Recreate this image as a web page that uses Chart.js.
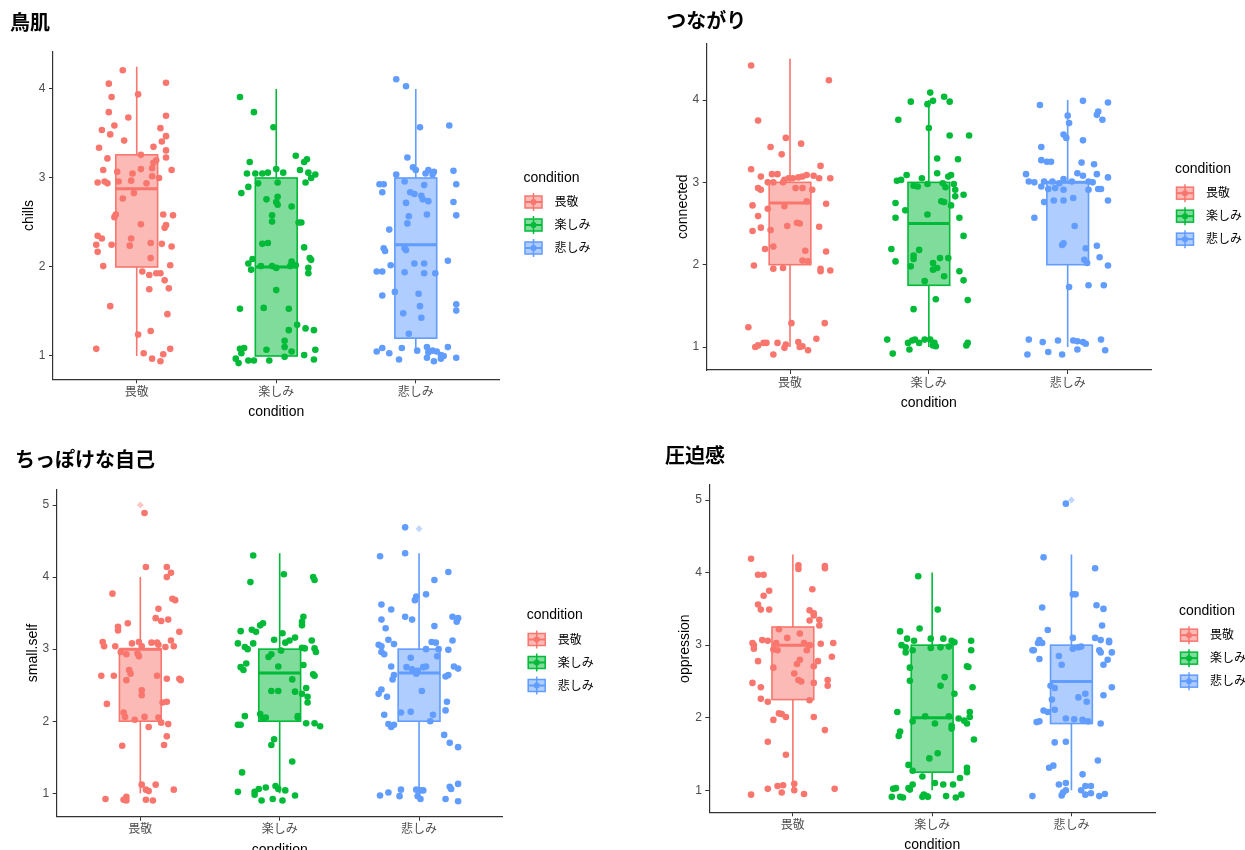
<!DOCTYPE html>
<html>
<head>
<meta charset="utf-8">
<script src="https://cdn.jsdelivr.net/npm/chart.js@4.4.1/dist/chart.umd.min.js"></script>
<style>
  body { margin: 0; background: #fff; overflow: hidden; width: 1245px; height: 850px; position: relative; }
  canvas { position: absolute; }
</style>
</head>
<body>
<canvas id="p1" width="622" height="425" style="left:0px;top:0px"></canvas>
<canvas id="p2" width="605" height="425" style="left:640px;top:0px"></canvas>
<canvas id="p3" width="622" height="440" style="left:0px;top:430px"></canvas>
<canvas id="p4" width="605" height="440" style="left:640px;top:430px"></canvas>
<script>
const conditions = ['畏敬', '楽しみ', '悲しみ']
const colors = ['#F8766D', '#00BA38', '#619CFF']
const fills = ['rgba(248,118,109,0.5)', 'rgba(0,186,56,0.5)', 'rgba(97,156,255,0.5)']
const faded = ['rgba(248,118,109,0.4)', 'rgba(0,186,56,0.4)', 'rgba(97,156,255,0.4)']

// box stats per condition: [lower whisker, q1, median, q3, upper whisker]
const chillsBox = [[1.0, 2.0, 2.88, 3.26, 4.25], [1.0, 1.0, 2.0, 3.0, 4.0], [1.05, 1.2, 2.25, 3.0, 4.0]]
const connectedBox = [[1.0, 2.0, 2.75, 3.0, 4.5], [1.0, 1.75, 2.5, 3.0, 4.0], [1.0, 2.0, 3.0, 3.0, 4.0]]
const smallSelfBox = [[1.0, 2.0, 3.0, 3.0, 4.0], [1.0, 2.0, 2.67, 3.0, 4.33], [1.0, 2.0, 2.67, 3.0, 4.33]]
const oppressionBox = [[1.0, 2.25, 3.0, 3.25, 4.25], [1.0, 1.25, 2.0, 3.0, 4.0], [1.0, 1.92, 2.5, 3.0, 4.25]]

// boxplot outliers: [condition number, value]
const smallSelfOut = [[1, 5.0], [3, 4.67]]
const oppressionOut = [[3, 5.0]]

// jittered points: [x jitter, value]
const chillsAwe = [[-0.10,4.21],[-0.20,4.06],[0.21,4.07],[-0.18,3.91],[0.01,3.94],[-0.20,3.74],[0.21,3.70],[-0.06,3.68],[-0.25,3.54],[-0.16,3.59],[0.17,3.56],[-0.19,3.49],[0.21,3.47],[-0.09,3.42],[0.18,3.41],[0.12,3.35],[-0.27,3.34],[0.21,3.31],[-0.21,3.22],[0.03,3.26],[0.21,3.23],[0.14,3.20],[0.12,3.17],[-0.24,3.09],[-0.14,3.07],[-0.03,3.05],[0.03,3.10],[0.25,3.09],[0.11,3.11],[0.11,3.02],[0.16,3.00],[-0.28,2.95],[-0.23,2.96],[-0.21,2.94],[-0.13,2.96],[-0.04,2.97],[0.07,2.94],[-0.02,2.83],[-0.10,2.77],[0.19,2.59],[0.26,2.58],[-0.15,2.59],[-0.16,2.56],[0.21,2.47],[0.20,2.44],[0.03,2.48],[-0.28,2.35],[-0.25,2.32],[-0.29,2.25],[-0.18,2.25],[-0.04,2.32],[-0.05,2.24],[0.10,2.27],[0.18,2.26],[0.25,2.23],[-0.28,2.17],[0.10,2.10],[-0.24,2.01],[0.24,2.02],[0.04,1.95],[0.09,1.91],[0.14,1.93],[0.17,1.93],[0.20,1.85],[0.09,1.75],[0.23,1.76],[-0.19,1.56],[0.22,1.47],[0.01,1.24],[0.10,1.28],[-0.29,1.08],[0.05,1.03],[0.11,0.97],[0.17,0.94],[0.19,1.02],[0.24,1.08]]
const chillsJoy = [[-0.26,3.91],[-0.16,3.74],[-0.02,3.57],[0.14,3.25],[0.22,3.21],[0.20,3.18],[-0.19,3.18],[0.17,3.09],[0.23,3.06],[0.28,3.04],[-0.21,3.05],[-0.15,3.05],[-0.10,3.05],[-0.06,3.06],[0.05,3.06],[0.00,3.10],[0.25,3.00],[0.21,2.95],[0.01,2.95],[-0.13,2.94],[-0.20,2.90],[-0.25,2.83],[0.01,2.79],[-0.07,2.76],[0.00,2.73],[0.01,2.70],[0.11,2.68],[-0.03,2.58],[-0.03,2.51],[0.16,2.50],[0.18,2.50],[-0.10,2.26],[-0.06,2.27],[0.20,2.22],[0.24,2.10],[0.25,2.08],[-0.17,2.09],[-0.20,2.04],[-0.18,1.97],[-0.11,2.01],[-0.03,2.01],[0.00,1.99],[0.11,2.06],[0.10,2.01],[0.14,2.02],[0.23,1.99],[0.23,1.93],[0.00,1.74],[-0.26,1.53],[-0.09,1.54],[0.09,1.53],[0.15,1.35],[0.21,1.31],[0.27,1.29],[0.09,1.29],[0.06,1.17],[0.06,1.10],[0.11,1.05],[-0.07,1.07],[-0.26,1.08],[-0.23,1.09],[-0.25,1.03],[-0.29,0.97],[-0.27,0.92],[-0.20,0.95],[-0.16,0.95],[-0.05,0.95],[0.06,0.99],[0.20,1.01],[0.28,1.07],[0.27,0.96]]
const chillsSad = [[-0.14,4.11],[-0.07,4.03],[0.03,3.57],[0.24,3.59],[-0.06,3.23],[-0.02,3.12],[0.00,3.09],[0.09,3.09],[0.13,3.07],[0.07,3.05],[0.12,3.04],[0.27,3.08],[-0.14,3.04],[-0.08,2.96],[-0.26,2.93],[-0.23,2.93],[0.29,2.93],[0.06,2.92],[-0.24,2.84],[-0.04,2.84],[-0.01,2.82],[0.04,2.80],[0.09,2.74],[0.05,2.76],[-0.07,2.72],[0.27,2.73],[-0.05,2.57],[0.08,2.59],[-0.06,2.49],[0.29,2.58],[-0.19,2.42],[-0.23,2.21],[-0.22,2.18],[-0.08,2.21],[-0.07,2.19],[-0.18,2.02],[-0.01,2.04],[0.06,2.04],[0.23,2.07],[-0.28,1.95],[-0.24,1.95],[-0.08,1.94],[0.06,1.93],[0.14,1.93],[-0.15,1.72],[0.02,1.70],[-0.24,1.68],[0.03,1.56],[0.29,1.58],[0.29,1.51],[-0.09,1.48],[0.04,1.43],[-0.05,1.25],[-0.28,1.05],[-0.24,1.09],[-0.19,1.03],[-0.10,1.09],[0.01,1.06],[0.08,1.10],[0.09,1.04],[0.12,1.06],[0.15,1.05],[0.18,1.01],[0.23,1.10],[-0.12,0.96],[0.08,0.98],[0.13,0.94],[0.18,0.97],[0.29,0.98],[0.20,1.00]]

const connectedAwe = [[-0.28,4.42],[0.28,4.24],[-0.23,3.75],[-0.03,3.54],[0.08,3.47],[-0.14,3.43],[-0.06,3.34],[0.22,3.20],[-0.28,3.16],[0.29,3.05],[-0.21,3.07],[-0.13,3.10],[-0.09,3.10],[-0.04,3.03],[-0.01,3.05],[0.02,3.05],[0.06,3.06],[0.09,3.07],[0.12,3.09],[0.17,3.08],[0.21,3.05],[-0.16,3.00],[-0.12,3.00],[-0.05,3.00],[-0.23,2.93],[-0.21,2.91],[0.04,2.93],[0.09,2.93],[0.16,2.91],[-0.27,2.72],[-0.04,2.71],[0.26,2.74],[0.12,2.77],[-0.16,2.68],[-0.23,2.59],[-0.21,2.45],[-0.27,2.41],[-0.14,2.42],[0.05,2.51],[0.07,2.50],[-0.02,2.47],[0.21,2.46],[-0.18,2.19],[-0.12,2.22],[0.11,2.17],[0.26,2.16],[0.09,2.05],[0.13,2.04],[-0.26,1.99],[-0.12,1.95],[-0.05,1.96],[0.22,1.95],[0.22,1.92],[0.29,1.93],[-0.30,1.24],[0.01,1.29],[0.25,1.29],[-0.25,1.00],[-0.23,1.02],[-0.19,1.05],[-0.17,1.05],[-0.09,1.05],[-0.03,1.03],[-0.04,0.99],[0.06,1.06],[0.07,1.00],[0.09,1.01],[0.13,0.96],[0.19,1.10],[-0.12,0.91]]
const connectedJoy = [[0.01,4.09],[-0.13,3.98],[0.03,3.99],[0.11,4.04],[0.15,3.98],[-0.01,3.95],[-0.22,3.76],[0.00,3.66],[0.15,3.57],[0.29,3.57],[0.06,3.29],[0.21,3.28],[-0.16,3.09],[-0.23,3.02],[-0.20,3.03],[-0.05,3.05],[0.06,3.11],[0.16,3.09],[0.14,3.07],[-0.01,2.98],[-0.11,2.96],[-0.08,2.95],[0.10,2.99],[0.18,2.98],[0.12,2.94],[0.19,2.91],[0.25,2.85],[0.19,2.83],[-0.24,2.75],[-0.17,2.66],[0.09,2.77],[0.11,2.76],[0.16,2.72],[-0.01,2.61],[-0.24,2.57],[0.22,2.57],[0.25,2.35],[-0.07,2.18],[-0.27,2.19],[-0.11,2.11],[-0.11,2.07],[-0.24,2.04],[-0.13,1.98],[0.08,2.08],[0.14,2.08],[0.03,2.02],[0.06,1.96],[0.22,1.92],[0.03,1.94],[0.11,1.86],[-0.03,1.80],[0.25,1.81],[0.05,1.58],[0.28,1.57],[-0.11,1.46],[-0.30,1.09],[-0.15,1.05],[-0.12,1.08],[-0.10,1.09],[-0.07,1.05],[-0.03,1.09],[0.01,1.09],[0.03,1.02],[0.05,1.01],[0.28,1.05],[0.27,1.02],[-0.14,0.97],[-0.26,0.92],[0.04,1.05]]
const connectedSad = [[-0.20,3.94],[0.11,3.99],[0.29,3.97],[0.22,3.86],[0.21,3.82],[0.25,3.76],[0.00,3.81],[0.01,3.72],[-0.03,3.58],[-0.01,3.54],[0.11,3.51],[-0.19,3.43],[-0.19,3.27],[-0.15,3.25],[-0.12,3.25],[0.10,3.24],[0.19,3.22],[-0.30,3.10],[0.07,3.11],[0.11,3.08],[0.21,3.10],[0.29,3.06],[-0.28,3.01],[-0.24,3.00],[-0.17,3.01],[-0.11,3.01],[-0.06,2.99],[-0.03,3.04],[0.03,3.01],[0.15,3.01],[0.18,3.00],[-0.19,2.95],[-0.14,2.92],[-0.09,2.93],[-0.03,2.91],[0.22,2.92],[0.24,2.92],[0.15,2.91],[0.29,2.78],[-0.17,2.76],[-0.10,2.78],[-0.03,2.78],[0.04,2.81],[-0.24,2.57],[0.05,2.47],[-0.04,2.24],[-0.03,2.26],[0.13,2.20],[0.21,2.23],[0.12,2.06],[0.14,2.02],[0.23,2.09],[0.29,1.99],[0.01,1.73],[0.15,1.75],[0.26,1.75],[-0.28,1.09],[-0.18,1.06],[-0.07,1.08],[0.04,1.08],[0.07,1.07],[0.11,1.06],[0.13,1.04],[0.24,1.09],[-0.29,0.91],[-0.14,0.94],[-0.04,0.91],[0.07,0.97],[0.27,0.96]]

const smallSelfAwe = [[0.03,4.89],[0.04,4.14],[0.19,4.14],[0.22,4.06],[0.19,4.00],[-0.20,3.77],[0.23,3.70],[0.25,3.68],[0.13,3.56],[0.11,3.43],[0.15,3.39],[0.20,3.41],[-0.09,3.36],[-0.16,3.31],[-0.16,3.26],[0.28,3.24],[-0.27,3.10],[-0.26,3.04],[-0.18,3.04],[-0.06,3.08],[-0.01,3.10],[0.01,3.04],[0.08,3.09],[0.12,3.09],[0.13,3.06],[0.18,3.03],[0.22,3.12],[0.24,3.04],[-0.14,2.96],[-0.10,2.93],[-0.02,2.94],[-0.01,2.90],[-0.08,2.71],[-0.07,2.66],[-0.19,2.63],[-0.28,2.63],[-0.10,2.57],[0.12,2.63],[0.19,2.59],[0.28,2.59],[0.29,2.57],[0.01,2.43],[0.01,2.36],[-0.24,2.24],[0.16,2.26],[0.19,2.27],[-0.12,2.12],[-0.04,2.02],[0.03,2.06],[-0.11,2.06],[0.13,2.05],[0.15,1.98],[0.20,1.96],[0.06,1.92],[0.19,1.79],[0.17,1.67],[-0.13,1.66],[0.01,1.12],[0.04,1.05],[0.06,1.03],[0.11,1.12],[0.24,1.05],[-0.25,0.92],[-0.10,0.95],[-0.10,0.90],[-0.12,0.91],[0.04,0.91],[0.09,0.90]]
const smallSelfJoy = [[-0.19,4.30],[0.03,4.04],[-0.21,3.93],[0.24,4.00],[0.25,3.96],[0.17,3.45],[0.16,3.38],[0.16,3.33],[-0.12,3.36],[-0.14,3.33],[-0.17,3.24],[-0.28,3.25],[-0.20,3.27],[0.02,3.22],[0.11,3.16],[0.23,3.12],[-0.30,3.08],[-0.25,3.03],[-0.23,3.00],[-0.19,3.08],[-0.04,3.13],[0.04,3.09],[0.07,3.12],[0.16,3.02],[0.18,3.01],[0.25,3.01],[0.26,2.96],[0.01,2.98],[-0.06,2.93],[-0.08,2.89],[-0.26,2.71],[-0.28,2.75],[-0.24,2.80],[-0.01,2.76],[0.17,2.78],[0.24,2.65],[0.25,2.63],[0.09,2.58],[0.11,2.41],[0.19,2.46],[0.16,2.38],[0.20,2.34],[-0.06,2.42],[-0.01,2.42],[0.20,2.26],[-0.14,2.10],[-0.10,2.05],[-0.12,2.04],[0.13,2.05],[0.13,2.07],[-0.25,2.07],[-0.30,1.95],[-0.28,1.95],[0.19,1.97],[0.25,1.97],[0.29,1.93],[-0.04,1.75],[-0.06,1.67],[0.09,1.44],[-0.27,1.29],[-0.30,1.02],[-0.18,1.02],[-0.15,1.06],[-0.10,1.08],[-0.03,1.10],[-0.01,1.06],[0.04,1.04],[-0.18,0.98],[-0.13,0.90],[-0.05,0.92],[0.02,0.90],[0.11,0.97]]
const smallSelfSad = [[-0.10,4.69],[-0.10,4.33],[-0.28,4.29],[0.21,4.07],[0.11,3.96],[0.05,3.76],[-0.02,3.73],[-0.03,3.68],[-0.27,3.62],[-0.20,3.55],[-0.10,3.45],[-0.05,3.41],[-0.27,3.41],[0.24,3.45],[0.28,3.43],[0.27,3.38],[0.11,3.32],[-0.24,3.29],[0.24,3.12],[-0.22,3.13],[0.09,3.10],[0.12,3.09],[-0.29,3.06],[-0.27,3.04],[-0.18,3.07],[0.05,3.00],[0.14,3.00],[0.21,2.99],[-0.27,2.96],[-0.25,2.93],[-0.06,2.88],[0.13,2.90],[0.25,2.76],[0.28,2.73],[0.21,2.64],[0.19,2.62],[-0.20,2.76],[-0.18,2.64],[-0.19,2.58],[-0.09,2.75],[-0.05,2.72],[-0.01,2.70],[0.03,2.75],[0.05,2.76],[-0.02,2.66],[0.02,2.42],[-0.27,2.44],[-0.29,2.38],[-0.23,2.34],[0.20,2.27],[0.19,2.15],[-0.25,2.09],[-0.13,2.12],[-0.06,2.13],[0.10,2.09],[0.08,2.00],[-0.22,1.96],[-0.20,1.92],[-0.18,1.95],[0.18,1.81],[0.22,1.70],[0.28,1.64],[-0.28,0.97],[-0.22,1.01],[-0.14,0.96],[-0.13,1.05],[-0.02,1.05],[0.01,1.04],[0.03,1.04],[-0.01,0.96],[0.01,0.92],[0.22,1.09],[0.23,1.06],[0.28,1.13],[0.19,0.92],[0.28,0.89]]

const oppressionAwe = [[-0.30,4.19],[-0.25,3.97],[-0.21,3.97],[0.04,4.10],[0.04,4.05],[0.23,4.09],[0.23,4.06],[-0.21,3.68],[-0.17,3.75],[0.14,3.77],[-0.25,3.56],[-0.23,3.49],[-0.17,3.49],[0.12,3.48],[0.15,3.44],[0.15,3.41],[0.19,3.35],[0.12,3.34],[0.19,3.27],[-0.10,3.22],[-0.04,3.10],[0.05,3.16],[-0.29,3.03],[-0.28,3.00],[-0.28,2.95],[-0.22,3.07],[-0.18,3.06],[-0.12,3.03],[-0.11,2.93],[-0.14,2.94],[0.08,3.03],[0.12,3.00],[0.10,2.93],[0.20,3.02],[0.29,3.03],[-0.25,2.78],[0.05,2.80],[0.03,2.74],[0.18,2.78],[0.28,2.84],[-0.14,2.69],[0.15,2.71],[0.01,2.61],[0.04,2.52],[0.06,2.50],[0.15,2.48],[0.25,2.52],[-0.29,2.48],[-0.23,2.42],[0.25,2.44],[-0.23,2.26],[-0.18,2.22],[0.12,2.24],[-0.10,2.06],[-0.08,2.05],[-0.05,2.01],[-0.14,1.97],[0.15,2.01],[0.23,1.83],[-0.18,1.67],[-0.05,1.49],[-0.18,1.02],[-0.11,1.06],[-0.07,1.07],[0.01,1.09],[0.01,1.00],[-0.08,0.97],[0.08,0.95],[-0.30,0.94],[0.30,1.02]]
const oppressionJoy = [[-0.10,3.95],[0.04,3.49],[-0.09,3.23],[-0.23,3.19],[-0.18,3.09],[-0.13,3.06],[-0.01,3.09],[0.08,3.09],[0.14,3.06],[0.16,3.04],[0.28,3.06],[-0.22,3.00],[-0.19,2.97],[-0.14,2.93],[-0.01,2.96],[0.06,2.97],[0.12,2.98],[-0.19,2.90],[0.28,2.93],[-0.16,2.69],[0.25,2.71],[0.26,2.70],[-0.16,2.51],[0.09,2.56],[0.06,2.44],[0.29,2.42],[0.16,2.33],[-0.25,2.08],[-0.05,2.02],[-0.14,1.95],[0.02,1.92],[0.12,2.02],[0.14,1.89],[0.19,1.99],[0.23,1.96],[0.27,2.08],[0.27,2.01],[0.25,1.92],[0.14,1.85],[-0.23,1.81],[-0.24,1.75],[0.30,1.70],[0.04,1.51],[-0.02,1.44],[-0.17,1.35],[-0.14,1.27],[-0.07,1.19],[0.25,1.31],[0.25,1.25],[0.20,1.17],[0.02,1.10],[0.08,1.08],[0.15,1.08],[-0.28,1.02],[-0.26,1.03],[-0.17,1.03],[-0.16,1.01],[-0.29,0.91],[-0.23,0.91],[-0.21,0.90],[-0.06,0.94],[-0.04,0.92],[-0.07,0.91],[-0.03,0.91],[0.10,0.92],[0.17,0.90],[0.21,0.94],[-0.14,1.08]]
const oppressionSad = [[-0.04,4.95],[-0.20,4.21],[0.17,4.06],[0.01,3.70],[0.03,3.70],[-0.21,3.52],[0.18,3.55],[0.23,3.50],[0.22,3.27],[-0.17,3.21],[0.01,3.10],[0.17,3.10],[0.21,3.07],[0.27,3.06],[0.27,3.04],[-0.23,3.07],[-0.24,3.03],[-0.21,3.03],[-0.27,2.93],[-0.28,2.93],[0.29,2.90],[0.20,2.93],[0.21,2.90],[0.01,2.95],[0.05,2.97],[0.07,2.98],[-0.09,2.85],[-0.23,2.81],[0.26,2.80],[0.23,2.73],[-0.07,2.73],[-0.15,2.44],[-0.12,2.41],[0.29,2.42],[0.23,2.31],[0.05,2.28],[0.10,2.33],[0.11,2.22],[-0.14,2.25],[-0.20,2.10],[-0.17,2.08],[-0.12,2.11],[-0.04,1.99],[0.02,1.98],[0.08,1.97],[0.12,1.95],[-0.25,1.94],[-0.23,1.95],[0.21,1.92],[-0.12,1.66],[-0.04,1.67],[0.19,1.41],[-0.16,1.31],[-0.13,1.34],[0.08,1.22],[-0.09,1.08],[-0.04,1.10],[0.10,1.06],[0.14,1.06],[0.07,1.00],[0.10,0.94],[0.14,0.96],[-0.07,0.93],[-0.04,1.00],[0.20,0.92],[0.24,0.95],[-0.28,0.92],[-0.06,0.97]]

Chart.defaults.font.family = "'Liberation Sans', 'Noto Sans CJK JP', sans-serif"

// draws ggplot-like boxes behind the points
function boxPlugin(stats) {
    return {
        id: 'boxes',
        beforeDatasetsDraw(chart) {
            const ctx = chart.ctx
            const x = chart.scales.x
            const y = chart.scales.y
            stats.forEach((s, i) => {
                const cx = x.getPixelForValue(i + 1)
                const xl = x.getPixelForValue(i + 1 - 0.15)
                const xr = x.getPixelForValue(i + 1 + 0.15)
                const top = y.getPixelForValue(s[3])
                const bot = y.getPixelForValue(s[1])
                ctx.save()
                ctx.strokeStyle = colors[i]
                ctx.lineWidth = 1.6
                ctx.beginPath()
                ctx.moveTo(cx, y.getPixelForValue(s[4]))
                ctx.lineTo(cx, top)
                ctx.moveTo(cx, bot)
                ctx.lineTo(cx, y.getPixelForValue(s[0]))
                ctx.stroke()
                ctx.fillStyle = fills[i]
                ctx.fillRect(xl, top, xr - xl, bot - top)
                ctx.strokeRect(xl, top, xr - xl, bot - top)
                ctx.lineWidth = 3
                ctx.beginPath()
                ctx.moveTo(xl, y.getPixelForValue(s[2]))
                ctx.lineTo(xr, y.getPixelForValue(s[2]))
                ctx.stroke()
                ctx.restore()
            })
        }
    }
}

// legend on the right, with small boxplot keys
const legendPlugin = {
    id: 'condLegend',
    afterDraw(chart) {
        const ctx = chart.ctx
        const area = chart.chartArea
        const x0 = area.right + 24
        const yc = (area.top + area.bottom) / 2
        ctx.save()
        ctx.textBaseline = 'middle'
        ctx.fillStyle = '#000'
        ctx.font = "14px 'Liberation Sans', 'Noto Sans CJK JP', sans-serif"
        ctx.fillText('condition', x0, yc - 37.5)
        ctx.font = "12px 'Liberation Sans', 'Noto Sans CJK JP', sans-serif"
        conditions.forEach((name, i) => {
            const ky = yc - 13.5 + i * 23
            const kx = x0 + 10
            ctx.strokeStyle = colors[i]
            ctx.lineWidth = 1.5
            ctx.beginPath()
            ctx.moveTo(kx, ky - 9)
            ctx.lineTo(kx, ky + 9)
            ctx.stroke()
            ctx.fillStyle = fills[i]
            ctx.fillRect(kx - 8.5, ky - 6, 17, 12)
            ctx.strokeRect(kx - 8.5, ky - 6, 17, 12)
            ctx.lineWidth = 2
            ctx.beginPath()
            ctx.moveTo(kx - 8.5, ky)
            ctx.lineTo(kx + 8.5, ky)
            ctx.stroke()
            ctx.fillStyle = colors[i]
            ctx.beginPath()
            ctx.arc(kx, ky, 3, 0, Math.PI * 2)
            ctx.fill()
            ctx.fillStyle = '#000'
            ctx.fillText(name, x0 + 31, ky + 1)
        })
        ctx.restore()
    }
}

// frame: canvas size, plot area edges and title spot, all in canvas pixels
function makePanel(id, title, yTitle, points, box, outliers, yMin, yMax, yTicks, f) {
    const datasets = conditions.map((name, i) => ({
        label: name,
        data: points[i].map(p => ({ x: i + 1 + p[0], y: p[1] })),
        backgroundColor: colors[i],
        borderWidth: 0,
        pointRadius: 3.3,
        pointHoverRadius: 3.3
    }))
    if (outliers) {
        datasets.push({
            label: 'outliers',
            data: outliers.map(o => ({ x: o[0], y: o[1] })),
            backgroundColor: outliers.map(o => faded[o[0] - 1]),
            borderWidth: 0,
            pointStyle: 'rectRot',
            pointRadius: 3.5
        })
    }
    const titleTop = f.titleY - 12
    new Chart(document.getElementById(id), {
        type: 'scatter',
        data: { datasets: datasets },
        options: {
            responsive: false,
            animation: false,
            devicePixelRatio: 1,
            layout: { padding: { left: f.titleX, right: f.W - f.R, top: 0, bottom: 0 } },
            plugins: {
                legend: { display: false },
                tooltip: { enabled: false },
                title: {
                    display: true,
                    text: title,
                    align: 'start',
                    color: '#000',
                    font: { size: 20, weight: 'bold', family: "'Noto Sans CJK JP', sans-serif" },
                    padding: { top: titleTop, bottom: f.T - titleTop - 24 }
                }
            },
            scales: {
                x: {
                    type: 'linear',
                    min: 0.4,
                    max: 3.6,
                    afterBuildTicks: s => { s.ticks = [1, 2, 3].map(v => ({ value: v })) },
                    afterFit: s => { s.height = f.H - f.B },
                    ticks: {
                        callback: v => conditions[Math.round(v) - 1],
                        color: '#4d4d4d',
                        font: { size: 12 },
                        padding: 2,
                        maxRotation: 0,
                        autoSkip: false
                    },
                    grid: { drawOnChartArea: false, drawTicks: true, tickLength: 4, color: '#333' },
                    border: { display: true, color: '#333', width: 1.2 },
                    title: { display: true, text: 'condition', color: '#000', font: { size: 14 }, padding: { top: 0, bottom: f.H - 8.4 - (f.B + 33) } }
                },
                y: {
                    type: 'linear',
                    min: yMin,
                    max: yMax,
                    afterBuildTicks: s => { s.ticks = yTicks.map(v => ({ value: v })) },
                    afterFit: s => { s.width = f.L - f.titleX },
                    ticks: { color: '#4d4d4d', font: { size: 12 }, padding: 3.5 },
                    grid: { drawOnChartArea: false, drawTicks: true, tickLength: 4, color: '#333' },
                    border: { display: true, color: '#333', width: 1.2 },
                    title: { display: true, text: yTitle, color: '#000', font: { size: 14 }, padding: { top: f.L - 24 - f.titleX - 8.4, bottom: 0 } }
                }
            }
        },
        plugins: [boxPlugin(box), legendPlugin]
    })
}

makePanel('p1', '鳥肌', 'chills', [chillsAwe, chillsJoy, chillsSad], chillsBox, null, 0.738, 4.419, [1, 2, 3, 4],
    { W: 622, H: 425, L: 53, T: 51.7, R: 499.5, B: 379.3, titleX: 10, titleY: 22.7 })
makePanel('p2', 'つながり', 'connected', [connectedAwe, connectedJoy, connectedSad], connectedBox, null, 0.721, 4.689, [1, 2, 3, 4],
    { W: 605, H: 425, L: 66.7, T: 43.3, R: 511, B: 370, titleX: 26.3, titleY: 20 })
makePanel('p3', 'ちっぽけな自己', 'small.self', [smallSelfAwe, smallSelfJoy, smallSelfSad], smallSelfBox, smallSelfOut, 0.675, 5.218, [1, 2, 3, 4, 5],
    { W: 622, H: 440, L: 56.7, T: 59.3, R: 502.7, B: 386.7, titleX: 15, titleY: 29.3 })
makePanel('p4', '圧迫感', 'oppression', [oppressionAwe, oppressionJoy, oppressionSad], oppressionBox, oppressionOut, 0.697, 5.207, [1, 2, 3, 4, 5],
    { W: 605, H: 440, L: 69.3, T: 55, R: 515, B: 382.3, titleX: 25, titleY: 25 })
</script>
</body>
</html>
